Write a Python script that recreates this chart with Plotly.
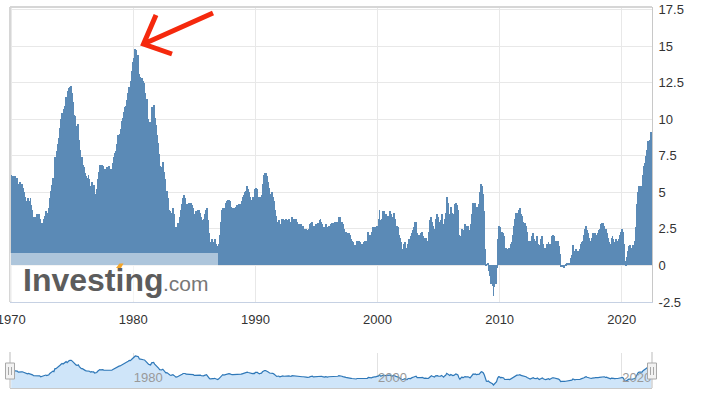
import pandas as pd
import plotly.graph_objects as go

# ---------------- data: US CPI, % change year over year (monthly) ----------------
start_month = "1970-01-01"
cpi_yoy = [
    # 1970
    6.2, 6.1, 5.8, 6.1, 6.1, 6.0, 6.0, 5.4, 5.6, 5.7, 5.6, 5.6,
    # 1971
    5.3, 5.0, 4.7, 4.2, 4.4, 4.6, 4.4, 4.6, 4.1, 3.8, 3.3, 3.3,
    # 1972
    3.3, 3.5, 3.5, 3.5, 3.2, 2.7, 2.9, 2.9, 3.2, 3.4, 3.7, 3.4,
    # 1973
    3.6, 3.9, 4.6, 5.1, 5.5, 6.0, 5.7, 7.4, 7.4, 7.8, 8.3, 8.7,
    # 1974
    9.4, 10.0, 10.4, 10.1, 10.7, 10.9, 11.5, 10.9, 11.9, 12.1, 12.2, 12.3,
    # 1975
    11.8, 11.2, 10.3, 10.2, 9.5, 9.3, 9.7, 8.6, 7.9, 7.4, 7.4, 6.9,
    # 1976
    6.7, 6.3, 6.1, 6.0, 6.2, 5.9, 5.4, 5.7, 5.5, 5.5, 4.9, 4.9,
    # 1977
    5.2, 5.9, 6.4, 6.9, 6.7, 6.9, 6.8, 6.6, 6.6, 6.4, 6.7, 6.7,
    # 1978
    6.8, 6.4, 6.6, 6.5, 7.0, 7.4, 7.7, 7.8, 8.3, 8.9, 8.9, 9.0,
    # 1979
    9.3, 9.9, 10.1, 10.5, 10.8, 10.9, 11.3, 11.8, 12.2, 12.1, 12.6, 13.3,
    # 1980
    13.9, 14.2, 14.8, 14.7, 14.4, 14.4, 13.1, 12.9, 12.6, 12.8, 12.6, 12.5,
    # 1981
    11.8, 11.4, 10.5, 10.0, 9.8, 9.6, 10.8, 10.8, 11.0, 10.1, 9.6, 8.9,
    # 1982
    8.4, 7.6, 6.8, 6.5, 6.7, 7.1, 6.4, 5.9, 5.0, 5.1, 4.6, 3.8,
    # 1983
    3.7, 3.5, 3.6, 3.9, 3.5, 2.6, 2.5, 2.6, 2.9, 2.9, 3.3, 3.8,
    # 1984
    4.2, 4.6, 4.8, 4.6, 4.2, 4.2, 4.2, 4.3, 4.3, 4.3, 4.1, 3.9,
    # 1985
    3.5, 3.5, 3.7, 3.7, 3.8, 3.8, 3.6, 3.3, 3.1, 3.2, 3.5, 3.8,
    # 1986
    3.9, 3.1, 2.2, 1.6, 1.5, 1.8, 1.6, 1.6, 1.8, 1.5, 1.3, 1.1,
    # 1987
    1.5, 2.1, 3.0, 3.8, 3.9, 3.7, 3.9, 4.3, 4.4, 4.5, 4.5, 4.4,
    # 1988
    4.0, 3.9, 3.9, 3.9, 3.9, 4.0, 4.1, 4.0, 4.2, 4.2, 4.2, 4.4,
    # 1989
    4.7, 4.8, 5.0, 5.1, 5.4, 5.2, 5.0, 4.7, 4.3, 4.5, 4.7, 4.6,
    # 1990
    5.2, 5.3, 5.2, 4.7, 4.4, 4.7, 4.8, 5.6, 6.2, 6.3, 6.3, 6.1,
    # 1991
    5.7, 5.3, 4.9, 4.9, 5.0, 4.7, 4.4, 3.8, 3.4, 2.9, 3.0, 3.1,
    # 1992
    2.6, 2.8, 3.2, 3.2, 3.0, 3.1, 3.2, 3.1, 3.0, 3.2, 3.0, 2.9,
    # 1993
    3.3, 3.2, 3.1, 3.2, 3.2, 3.0, 2.8, 2.8, 2.7, 2.8, 2.7, 2.7,
    # 1994
    2.5, 2.5, 2.5, 2.4, 2.3, 2.5, 2.8, 2.9, 3.0, 2.6, 2.7, 2.7,
    # 1995
    2.8, 2.9, 2.9, 3.1, 3.2, 3.0, 2.8, 2.6, 2.5, 2.8, 2.6, 2.5,
    # 1996
    2.7, 2.7, 2.8, 2.9, 2.9, 2.8, 3.0, 2.9, 3.0, 3.0, 3.3, 3.3,
    # 1997
    3.0, 3.0, 2.8, 2.5, 2.2, 2.3, 2.2, 2.2, 2.2, 2.1, 1.8, 1.7,
    # 1998
    1.6, 1.4, 1.4, 1.4, 1.7, 1.7, 1.7, 1.6, 1.5, 1.5, 1.5, 1.6,
    # 1999
    1.7, 1.6, 1.7, 2.3, 2.1, 2.0, 2.1, 2.3, 2.6, 2.6, 2.6, 2.7,
    # 2000
    2.7, 3.2, 3.8, 3.1, 3.2, 3.7, 3.7, 3.4, 3.5, 3.4, 3.4, 3.4,
    # 2001
    3.7, 3.5, 2.9, 3.3, 3.6, 3.2, 2.7, 2.7, 2.6, 2.1, 1.9, 1.6,
    # 2002
    1.1, 1.1, 1.5, 1.6, 1.2, 1.1, 1.5, 1.8, 1.5, 2.0, 2.2, 2.4,
    # 2003
    2.6, 3.0, 3.0, 2.2, 2.1, 2.1, 2.1, 2.2, 2.3, 2.0, 1.8, 1.9,
    # 2004
    1.9, 1.7, 1.7, 2.3, 3.1, 3.3, 3.0, 2.7, 2.5, 3.2, 3.5, 3.3,
    # 2005
    3.0, 3.0, 3.1, 3.5, 2.8, 2.5, 3.2, 3.6, 4.7, 4.3, 3.5, 3.4,
    # 2006
    4.0, 3.6, 3.4, 3.5, 4.2, 4.3, 4.1, 3.8, 2.1, 1.3, 2.0, 2.5,
    # 2007
    2.1, 2.4, 2.8, 2.6, 2.7, 2.7, 2.4, 2.0, 2.8, 3.5, 4.3, 4.1,
    # 2008
    4.3, 4.0, 4.0, 3.9, 4.2, 5.0, 5.6, 5.4, 4.9, 3.7, 1.1, 0.1,
    # 2009
    0.0, 0.2, -0.4, -0.7, -1.3, -1.4, -2.1, -1.5, -1.3, -0.2, 1.8, 2.7,
    # 2010
    2.6, 2.1, 2.3, 2.2, 2.0, 1.1, 1.2, 1.1, 1.1, 1.2, 1.1, 1.5,
    # 2011
    1.6, 2.1, 2.7, 3.2, 3.6, 3.6, 3.6, 3.8, 3.9, 3.5, 3.4, 3.0,
    # 2012
    2.9, 2.9, 2.7, 2.3, 1.7, 1.7, 1.4, 1.7, 2.0, 2.2, 1.8, 1.7,
    # 2013
    1.6, 2.0, 1.5, 1.1, 1.4, 1.8, 2.0, 1.5, 1.2, 1.0, 1.2, 1.5,
    # 2014
    1.6, 1.1, 1.5, 2.0, 2.1, 2.1, 2.0, 1.7, 1.7, 1.7, 1.3, 0.8,
    # 2015
    -0.1, 0.0, -0.1, -0.2, 0.0, 0.1, 0.2, 0.2, 0.0, 0.2, 0.5, 0.7,
    # 2016
    1.4, 1.0, 0.9, 1.1, 1.0, 1.0, 0.8, 1.1, 1.5, 1.6, 1.7, 2.1,
    # 2017
    2.5, 2.7, 2.4, 2.2, 1.9, 1.6, 1.7, 1.9, 2.2, 2.0, 2.2, 2.1,
    # 2018
    2.1, 2.2, 2.4, 2.5, 2.8, 2.9, 2.9, 2.7, 2.3, 2.5, 2.2, 1.9,
    # 2019
    1.6, 1.5, 1.9, 2.0, 1.8, 1.6, 1.8, 1.7, 1.7, 1.8, 2.1, 2.3,
    # 2020
    2.5, 2.3, 1.5, 0.3, 0.1, 0.6, 1.0, 1.3, 1.4, 1.2, 1.2, 1.4,
    # 2021
    1.4, 1.7, 2.6, 4.2, 5.0, 5.4, 5.4, 5.3, 5.4, 6.2, 6.8, 7.0,
    # 2022
    7.5, 7.9, 8.5, 8.3, 8.6, 9.1,
]
y_tick_values = [-2.5, 0, 2.5, 5, 7.5, 10, 12.5, 15, 17.5]
y_tick_labels = ["-2.5", "0", "2.5", "5", "7.5", "10", "12.5", "15", "17.5"]
x_range = ["1969-11-26", "2022-06-25"]
nav_range = [-3.85, 16.55]

dates = pd.date_range(start_month, periods=len(cpi_yoy), freq="MS")

# ---------------- pixel -> paper helpers (for decorations only) ----------------
W, H = 704, 396
ML, MR, MT, MB = 10, 52, 7, 8
PW, PH = W - ML - MR, H - MT - MB


def px(p):
    return (p - ML) / PW


def py(p):
    return (H - MB - p) / PH


fig = go.Figure()

fig.add_trace(go.Bar(
    x=dates, y=cpi_yoy, xaxis="x", yaxis="y",
    marker=dict(color="#5b8ab6", line=dict(width=0)),
    hoverinfo="x+y", showlegend=False,
))

# navigator: baseline + filled line
fig.add_trace(go.Scatter(
    x=dates, y=[nav_range[0]] * len(dates), xaxis="x2", yaxis="y2",
    mode="lines", line=dict(width=0, color="rgba(0,0,0,0)"),
    hoverinfo="skip", showlegend=False,
))
fig.add_trace(go.Scatter(
    x=dates, y=cpi_yoy, xaxis="x2", yaxis="y2",
    mode="lines", line=dict(width=1.2, color="#2f78b8"),
    fill="tonexty", fillcolor="#cfe5f9",
    hoverinfo="skip", showlegend=False,
))

grid = "#e8e8e8"
fig.update_layout(
    width=W, height=H,
    margin=dict(l=ML, r=MR, t=MT, b=MB, pad=0, autoexpand=False),
    paper_bgcolor="white", plot_bgcolor="white",
    bargap=0,
    font=dict(family="Liberation Sans, Arial, sans-serif", size=13, color="#333333"),
    xaxis=dict(
        type="date", range=x_range, domain=[0, 1], anchor="y",
        automargin=False, ticklabeloverflow="allow",
        tickformat="%Y", dtick="M120", tick0="1970-01-01",
        showgrid=True, gridcolor=grid, gridwidth=1,
        ticks="outside", ticklen=5, tickcolor="rgba(0,0,0,0)",
        showline=True, linecolor="#c6d1e3", linewidth=1,
        tickfont=dict(size=13, color="#333333"),
        zeroline=False,
    ),
    yaxis=dict(
        domain=[py(302), 1], anchor="x", side="right",
        automargin=False,
        range=[-2.5, 17.67],
        tickvals=y_tick_values, ticktext=y_tick_labels,
        showgrid=True, gridcolor=grid, gridwidth=1,
        zeroline=True, zerolinecolor=grid, zerolinewidth=1,
        ticks="outside", ticklen=3, tickcolor="rgba(0,0,0,0)",
        showline=True, linecolor="#c8c8c8", linewidth=1,
        tickfont=dict(size=13, color="#333333"),
    ),
    xaxis2=dict(
        type="date", range=x_range, domain=[0, 1], anchor="y2",
        automargin=False, ticklabeloverflow="allow",
        tickformat="%Y", dtick="M240", tick0="1980-01-01",
        ticklabelposition="inside right",
        showgrid=True, gridcolor="#e2e2e2", gridwidth=1,
        ticks="", showline=True, linecolor="#c8c8c8", linewidth=1,
        tickfont=dict(size=13, color="#999999"),
        zeroline=False,
    ),
    yaxis2=dict(
        domain=[0, py(353)], anchor="x2", range=nav_range,
        automargin=False,
        showgrid=False, zeroline=False, showticklabels=False,
        showline=False,
    ),
)

shapes = []
# plot frame (top and left borders)
shapes.append(dict(type="line", xref="paper", yref="paper",
                   x0=0, x1=1, y0=1, y1=1,
                   line=dict(color="#d6d6d6", width=2), layer="above"))
shapes.append(dict(type="line", xref="paper", yref="paper",
                   x0=0, x1=0, y0=py(302), y1=1,
                   line=dict(color="#d6d6d6", width=2), layer="above"))

# watermark background (semi-transparent white)
shapes.append(dict(type="rect", xref="paper", yref="paper",
                   x0=px(10), x1=px(218), y0=py(301.5), y1=py(253),
                   fillcolor="rgba(255,255,255,0.5)", line=dict(width=0),
                   layer="above"))
# orange accent on logo
shapes.append(dict(type="path", xref="paper", yref="paper",
                   path=(f"M {px(116)},{py(268)} L {px(119.5)},{py(263.5)} "
                         f"L {px(123.5)},{py(263.5)} L {px(121)},{py(268)} Z"),
                   fillcolor="#f4a62a", line=dict(width=0), layer="above"))

# red arrow
arrow_path = (f"M {px(213)},{py(13)} L {px(143.5)},{py(44)} "
              f"M {px(156)},{py(15)} L {px(143.5)},{py(44)} L {px(172)},{py(54)}")
shapes.append(dict(type="path", xref="paper", yref="paper", path=arrow_path,
                   line=dict(color="#f5290d", width=5), layer="above"))

# navigator outline and handles
for hx in (10, 652):
    shapes.append(dict(type="line", xref="paper", yref="paper",
                       x0=px(hx), x1=px(hx), y0=py(388), y1=py(352),
                       line=dict(color="#bbbbbb", width=1), layer="above"))
    shapes.append(dict(type="rect", xref="paper", yref="paper",
                       x0=px(hx - 4.5), x1=px(hx + 4.5), y0=py(379), y1=py(363),
                       fillcolor="#f2f2f2", line=dict(color="#a8a8a8", width=1),
                       layer="above"))
    for dx in (-1.5, 1.5):
        shapes.append(dict(type="line", xref="paper", yref="paper",
                           x0=px(hx + dx), x1=px(hx + dx), y0=py(375), y1=py(367),
                           line=dict(color="#a8a8a8", width=1), layer="above"))

fig.update_layout(shapes=shapes)

# watermark text
fig.add_annotation(
    xref="paper", yref="paper", x=px(20.5), y=py(279.5),
    xanchor="left", yanchor="middle", showarrow=False,
    text="Investing",
    font=dict(family="Liberation Sans, Arial, sans-serif", size=32,
              color="#5c5c5c", weight="bold"),
)
fig.add_annotation(
    xref="paper", yref="paper", x=px(161), y=py(283),
    xanchor="left", yanchor="middle", showarrow=False,
    text=".com",
    font=dict(family="Liberation Sans, Arial, sans-serif", size=21,
              color="#777777"),
)

fig.write_html("out.html")
